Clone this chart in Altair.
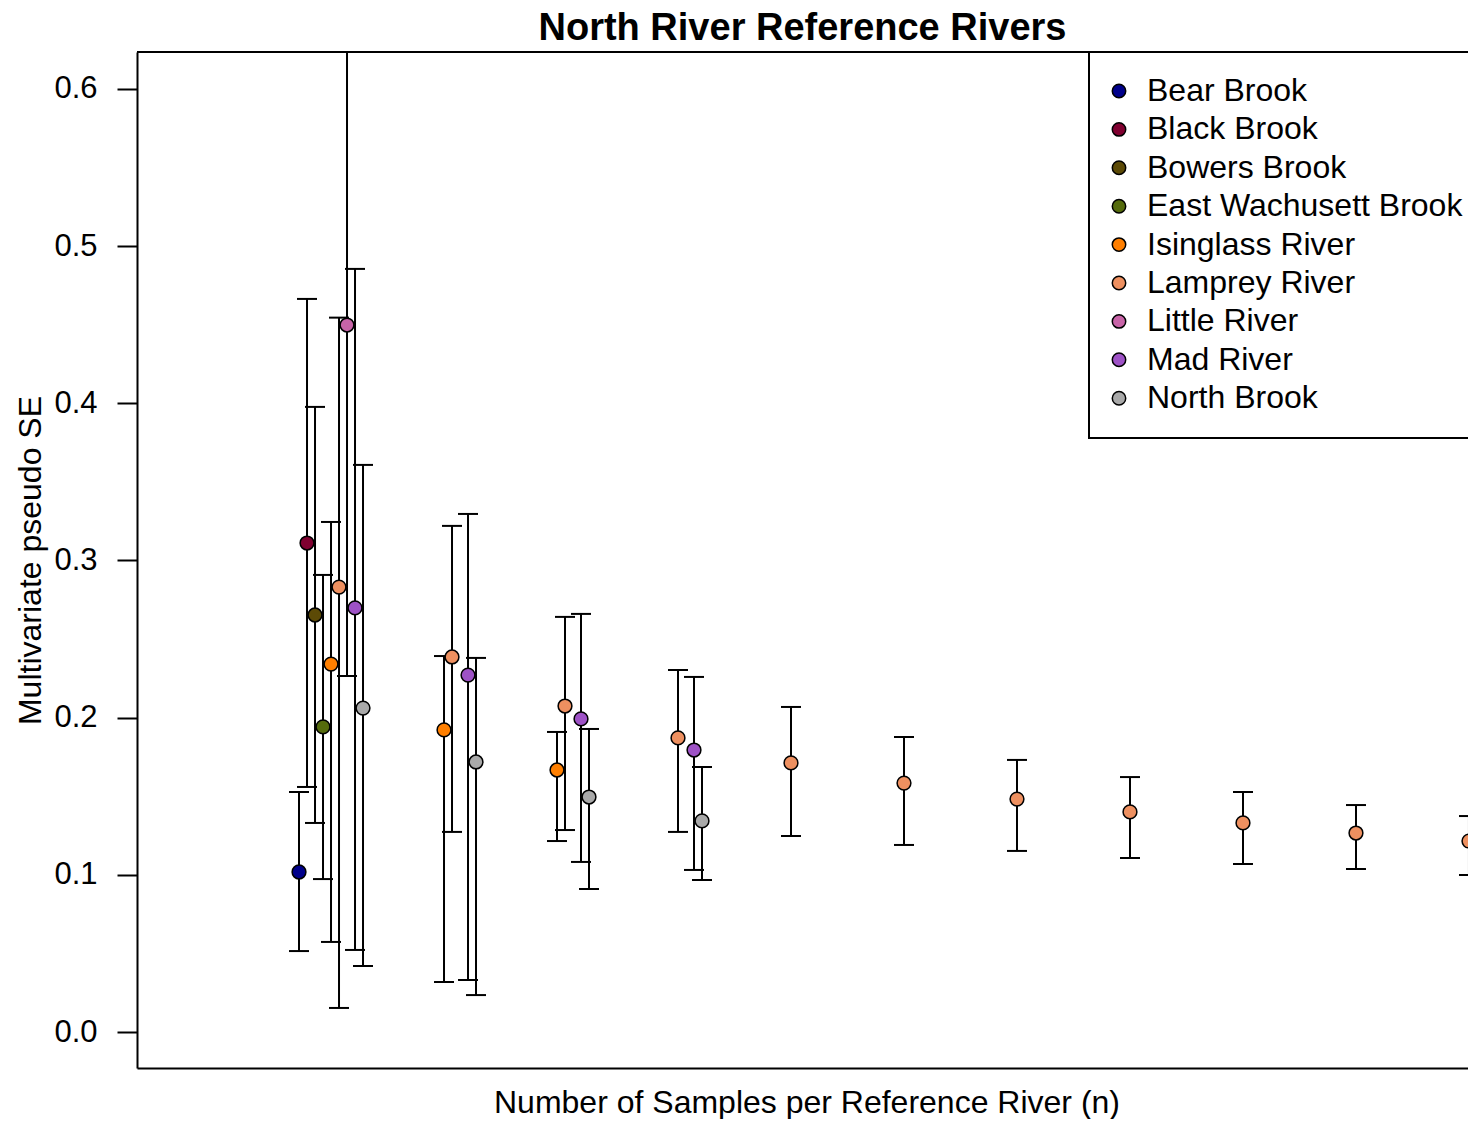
import altair as alt
import pandas as pd

rivers = ["Bear Brook", "Black Brook", "Bowers Brook", "East Wachusett Brook",
          "Isinglass River", "Lamprey River", "Little River", "Mad River", "North Brook"]
colors = ["#00008B", "#800030", "#5C4A06", "#556B0C", "#FF7F00",
          "#EE9060", "#C864A8", "#9E52C6", "#A9A9A9"]

bear_n = [2]
bear_se = [0.1018]
bear_lo = [0.0515]
bear_hi = [0.1527]

black_n = [2]
black_se = [0.3111]
black_lo = [0.1559]
black_hi = [0.4664]

bowers_n = [2]
bowers_se = [0.2653]
bowers_lo = [0.1330]
bowers_hi = [0.3977]

east_n = [2]
east_se = [0.1941]
east_lo = [0.0973]
east_hi = [0.2908]

isinglass_n = [2, 3, 4]
isinglass_se = [0.2341, 0.1922, 0.1667]
isinglass_lo = [0.0573, 0.0318, 0.1215]
isinglass_hi = [0.3245, 0.2392, 0.1909]

lamprey_n = [2, 3, 4, 5, 6, 7, 8, 9, 10, 11, 12]
lamprey_se = [0.2831, 0.2386, 0.2074, 0.1871, 0.1712, 0.1584, 0.1482, 0.1400, 0.1330, 0.1266, 0.1215]
lamprey_lo = [0.0153, 0.1273, 0.1285, 0.1273, 0.1247, 0.1190, 0.1152, 0.1107, 0.1069, 0.1037, 0.0999]
lamprey_hi = [0.4545, 0.3220, 0.2641, 0.2303, 0.2068, 0.1877, 0.1731, 0.1622, 0.1527, 0.1444, 0.1374]

little_n = [2]
little_se = [0.4498]
little_lo = [0.2265]
little_hi = [0.6740]

mad_n = [2, 3, 4, 5]
mad_se = [0.2698, 0.2271, 0.1992, 0.1794]
mad_lo = [0.0522, 0.0331, 0.1082, 0.1031]
mad_hi = [0.4855, 0.3296, 0.2660, 0.2259]

north_n = [2, 3, 4, 5]
north_se = [0.2061, 0.1718, 0.1495, 0.1343]
north_lo = [0.0420, 0.0235, 0.0910, 0.0967]
north_hi = [0.3608, 0.2380, 0.1928, 0.1686]

series = [
    (bear_n, bear_se, bear_lo, bear_hi),
    (black_n, black_se, black_lo, black_hi),
    (bowers_n, bowers_se, bowers_lo, bowers_hi),
    (east_n, east_se, east_lo, east_hi),
    (isinglass_n, isinglass_se, isinglass_lo, isinglass_hi),
    (lamprey_n, lamprey_se, lamprey_lo, lamprey_hi),
    (little_n, little_se, little_lo, little_hi),
    (mad_n, mad_se, mad_lo, mad_hi),
    (north_n, north_se, north_lo, north_hi),
]

dodge = 0.0708
rows = []
for i, (name, (ns, se, lo, hi)) in enumerate(zip(rivers, series)):
    for n, s, l, h in zip(ns, se, lo, hi):
        rows.append({"river": name, "n": n, "xpos": n + (i - 4) * dodge,
                     "se": s, "lo": l, "hi": h})
df = pd.DataFrame(rows)

FONT = "Liberation Sans"
PLOT_W = 1331      # visible plot width inside the page
FULL_W = 1339      # R's plot region runs past the right edge of the picture
PLOT_H = 1016

xscale = alt.Scale(domain=[0.283, 12.133], nice=False, zero=False, range=[0, FULL_W])
yscale = alt.Scale(domain=[-0.0229, 0.6235], nice=False, zero=False)

xaxis = alt.Axis(title="Number of Samples per Reference River (n)", labels=False,
                 ticks=False, domain=True, domainColor="black", domainWidth=2,
                 grid=False, titlePadding=19)
yaxis = alt.Axis(title="Multivariate pseudo SE", values=[0, 0.1, 0.2, 0.3, 0.4, 0.5, 0.6],
                 format=".1f", domain=True, domainColor="black", domainWidth=2,
                 grid=False, tickSize=20, tickWidth=2,
                 tickColor="black", labelPadding=20, titlePadding=6)

base = alt.Chart(df)

bars = base.mark_rule(color="black", strokeWidth=2, clip=True).encode(
    x=alt.X("xpos:Q", scale=xscale, axis=xaxis),
    y=alt.Y("lo:Q", scale=yscale, axis=yaxis),
    y2="hi:Q",
)
cap_lo = base.mark_tick(color="black", orient="horizontal", size=20, thickness=2,
                        opacity=1).encode(
    x=alt.X("xpos:Q", scale=xscale),
    y=alt.Y("lo:Q", scale=yscale),
)
cap_hi = base.mark_tick(color="black", orient="horizontal", size=20, thickness=2,
                        clip=True, opacity=1).encode(
    x=alt.X("xpos:Q", scale=xscale),
    y=alt.Y("hi:Q", scale=yscale),
)
points = base.mark_circle(size=190, stroke="black", strokeWidth=1.5, opacity=1).encode(
    x=alt.X("xpos:Q", scale=xscale),
    y=alt.Y("se:Q", scale=yscale),
    color=alt.Color("river:N", scale=alt.Scale(domain=rivers, range=colors),
                    legend=alt.Legend(title=None, orient="none", legendX=952, legendY=0,
                                      padding=23, strokeColor="black", fillColor="white",
                                      symbolType="circle", symbolSize=180,
                                      symbolStrokeColor="black", symbolStrokeWidth=1.5,
                                      symbolOpacity=1, symbolOffset=-9,
                                      labelFont=FONT, labelFontSize=32,
                                      labelColor="black", labelLimit=600, labelOffset=12,
                                      rowPadding=6.4)),
)
# top edge of the plot frame
top_edge = base.mark_rule(color="black", strokeWidth=2).encode(
    x=alt.value(0), x2=alt.value(FULL_W), y=alt.value(0),
)

chart = alt.layer(bars, cap_lo, cap_hi, points, top_edge).properties(
    width=PLOT_W, height=PLOT_H,
    title=alt.TitleParams("North River Reference Rivers", font=FONT, fontSize=38,
                          fontWeight="bold", color="black", anchor="middle", offset=3),
    autosize=alt.AutoSizeParams(type="none"),
    padding={"left": 129, "top": 44, "right": 0, "bottom": 51},
).configure_view(stroke="transparent", strokeWidth=0).configure_axis(
    labelFont=FONT, labelFontSize=31, labelColor="black",
    titleFont=FONT, titleFontSize=32, titleColor="black", titleFontWeight="normal",
).configure_legend(strokeWidth=2)

chart.save("out.html", embed_options={"renderer": "svg", "actions": False})
